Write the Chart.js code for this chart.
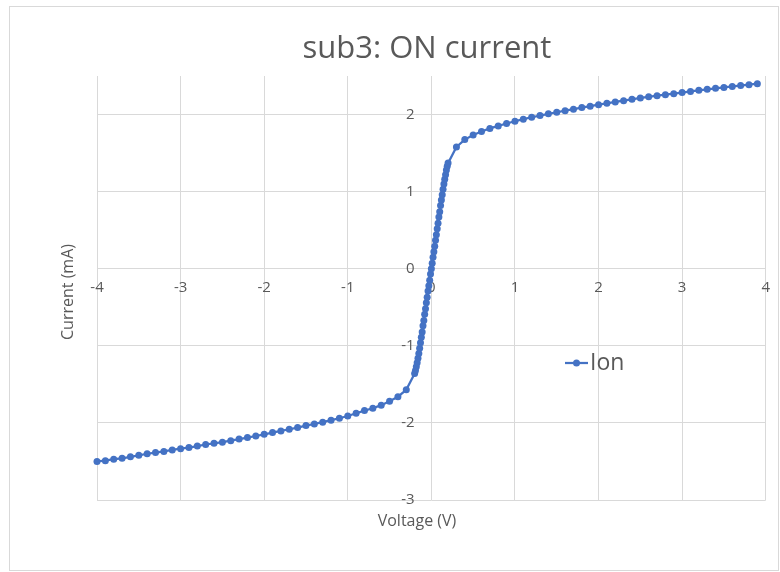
<!DOCTYPE html>
<html lang="en">
<head>
    <meta charset="UTF-8">
    <title>sub3: ON current</title>
    <script src="https://cdn.jsdelivr.net/npm/chart.js"></script>
    <style>
        body { margin: 0; background-color: #fff; }
        .frame { position: absolute; left: 9px; top: 6px; width: 768px; height: 563px; border: 1px solid #d9d9d9; }
        .chart-box { position: absolute; left: 0; top: 0; width: 780px; height: 572px; }
    </style>
</head>
<body>
    <div class="frame"></div>
    <div class="chart-box"><canvas id="ion-chart"></canvas></div>

<script>
    // --- data (voltage in V, current in mA) ---
    const voltage = [
        -4.0, -3.9, -3.8, -3.7, -3.6, -3.5, -3.4, -3.3, -3.2, -3.1,
        -3.0, -2.9, -2.8, -2.7, -2.6, -2.5, -2.4, -2.3, -2.2, -2.1,
        -2.0, -1.9, -1.8, -1.7, -1.6, -1.5, -1.4, -1.3, -1.2, -1.1,
        -1.0, -0.9, -0.8, -0.7, -0.6, -0.5, -0.4, -0.3,
        -0.20, -0.19, -0.18, -0.17, -0.16, -0.15, -0.14, -0.13, -0.12, -0.11,
        -0.10, -0.09, -0.08, -0.07, -0.06, -0.05, -0.04, -0.03, -0.02, -0.01,
        0.00, 0.01, 0.02, 0.03, 0.04, 0.05, 0.06, 0.07, 0.08, 0.09,
        0.10, 0.11, 0.12, 0.13, 0.14, 0.15, 0.16, 0.17, 0.18, 0.19, 0.20,
        0.3, 0.4, 0.5, 0.6, 0.7, 0.8, 0.9, 1.0, 1.1, 1.2,
        1.3, 1.4, 1.5, 1.6, 1.7, 1.8, 1.9, 2.0, 2.1, 2.2,
        2.3, 2.4, 2.5, 2.6, 2.7, 2.8, 2.9, 3.0, 3.1, 3.2,
        3.3, 3.4, 3.5, 3.6, 3.7, 3.8, 3.9
    ];
    const current = [
        -2.50, -2.49, -2.47, -2.46, -2.44, -2.42, -2.40, -2.385, -2.37, -2.35,
        -2.335, -2.32, -2.30, -2.28, -2.265, -2.25, -2.23, -2.21, -2.19, -2.17,
        -2.148, -2.126, -2.104, -2.082, -2.06, -2.035, -2.013, -1.99, -1.965, -1.94,
        -1.91, -1.875, -1.84, -1.81, -1.77, -1.72, -1.66, -1.57,
        -1.36, -1.32, -1.27, -1.22, -1.16, -1.10, -1.03, -0.96, -0.89, -0.82,
        -0.74, -0.67, -0.59, -0.52, -0.44, -0.37, -0.29, -0.22, -0.15, -0.07,
        0.00, 0.07, 0.15, 0.22, 0.29, 0.37, 0.44, 0.52, 0.59, 0.67,
        0.74, 0.82, 0.89, 0.96, 1.03, 1.10, 1.16, 1.22, 1.28, 1.33, 1.37,
        1.58, 1.675, 1.735, 1.78, 1.82, 1.853, 1.884, 1.913, 1.94, 1.965,
        1.987, 2.009, 2.03, 2.05, 2.07, 2.09, 2.108, 2.128, 2.146, 2.164,
        2.18, 2.198, 2.215, 2.23, 2.244, 2.257, 2.27, 2.285, 2.30, 2.314,
        2.328, 2.34, 2.352, 2.364, 2.376, 2.388, 2.40
    ];
    const xTicks = [-4, -3, -2, -1, 0, 1, 2, 3, 4];
    const yTicks = [-3, -2, -1, 0, 1, 2];
    const seriesName = 'Ion';
    const chartTitle = 'sub3: ON current';
    const xTitle = 'Voltage (V)';
    const yTitle = 'Current (mA)';

    const BLUE = '#4472C4';
    const TEXT = '#595959';
    const GRID = '#d9d9d9';
    const FONT = "'Open Sans', sans-serif";

    // titles and the floating legend, placed like the Excel original
    const excelDecor = {
        id: 'excelDecor',
        afterDraw(chart) {
            const ctx = chart.ctx;
            ctx.save();
            ctx.fillStyle = TEXT;
            ctx.textAlign = 'center';
            ctx.textBaseline = 'middle';

            ctx.font = '31px ' + FONT;
            ctx.fillText(chartTitle, 427, 49);

            ctx.font = '16px ' + FONT;
            ctx.fillText(xTitle, 417, 521);

            ctx.translate(68, 292);
            ctx.rotate(-Math.PI / 2);
            ctx.fillText(yTitle, 0, 0);
            ctx.restore();

            // legend: line with marker + name
            ctx.save();
            ctx.strokeStyle = BLUE;
            ctx.lineWidth = 2.25;
            ctx.beginPath();
            ctx.moveTo(565, 363);
            ctx.lineTo(588, 363);
            ctx.stroke();
            ctx.fillStyle = BLUE;
            ctx.beginPath();
            ctx.arc(576.5, 363, 3.5, 0, Math.PI * 2);
            ctx.fill();
            ctx.fillStyle = TEXT;
            ctx.font = '23px ' + FONT;
            ctx.textAlign = 'left';
            ctx.textBaseline = 'middle';
            ctx.fillText(seriesName, 590, 363);
            ctx.restore();
        }
    };

    new Chart(document.getElementById('ion-chart'), {
        type: 'scatter',
        data: {
            datasets: [{
                label: seriesName,
                data: voltage.map((v, i) => ({ x: v, y: current[i] })),
                showLine: true,
                borderColor: BLUE,
                backgroundColor: BLUE,
                borderWidth: 2.25,
                pointRadius: 3.5,
                pointBorderWidth: 0,
                clip: false
            }]
        },
        options: {
            responsive: true,
            maintainAspectRatio: false,
            animation: false,
            layout: { padding: { left: 97, top: 76, right: 11, bottom: 72 } },
            plugins: { legend: { display: false }, title: { display: false }, tooltip: { enabled: false } },
            scales: {
                x: {
                    type: 'linear',
                    position: { y: 0 },
                    min: -4, max: 4,
                    afterFit: s => { s.height = 0; },
                    afterBuildTicks: s => { s.ticks = xTicks.map(v => ({ value: v })); },
                    grid: { color: GRID, lineWidth: 1, drawTicks: false },
                    border: { display: false },
                    ticks: { color: TEXT, font: { family: FONT, size: 15 }, padding: 10, maxRotation: 0 }
                },
                y: {
                    type: 'linear',
                    // labels sit just left of the x = 0 line, like Excel
                    position: { x: -0.2 },
                    min: -3, max: 2.5,
                    afterFit: s => { s.width = 0; },
                    afterBuildTicks: s => { s.ticks = yTicks.map(v => ({ value: v })); },
                    grid: { color: GRID, lineWidth: 1, drawTicks: false },
                    border: { display: false },
                    ticks: { color: TEXT, font: { family: FONT, size: 15 } }
                }
            }
        },
        plugins: [excelDecor]
    });
</script>
</body>
</html>
